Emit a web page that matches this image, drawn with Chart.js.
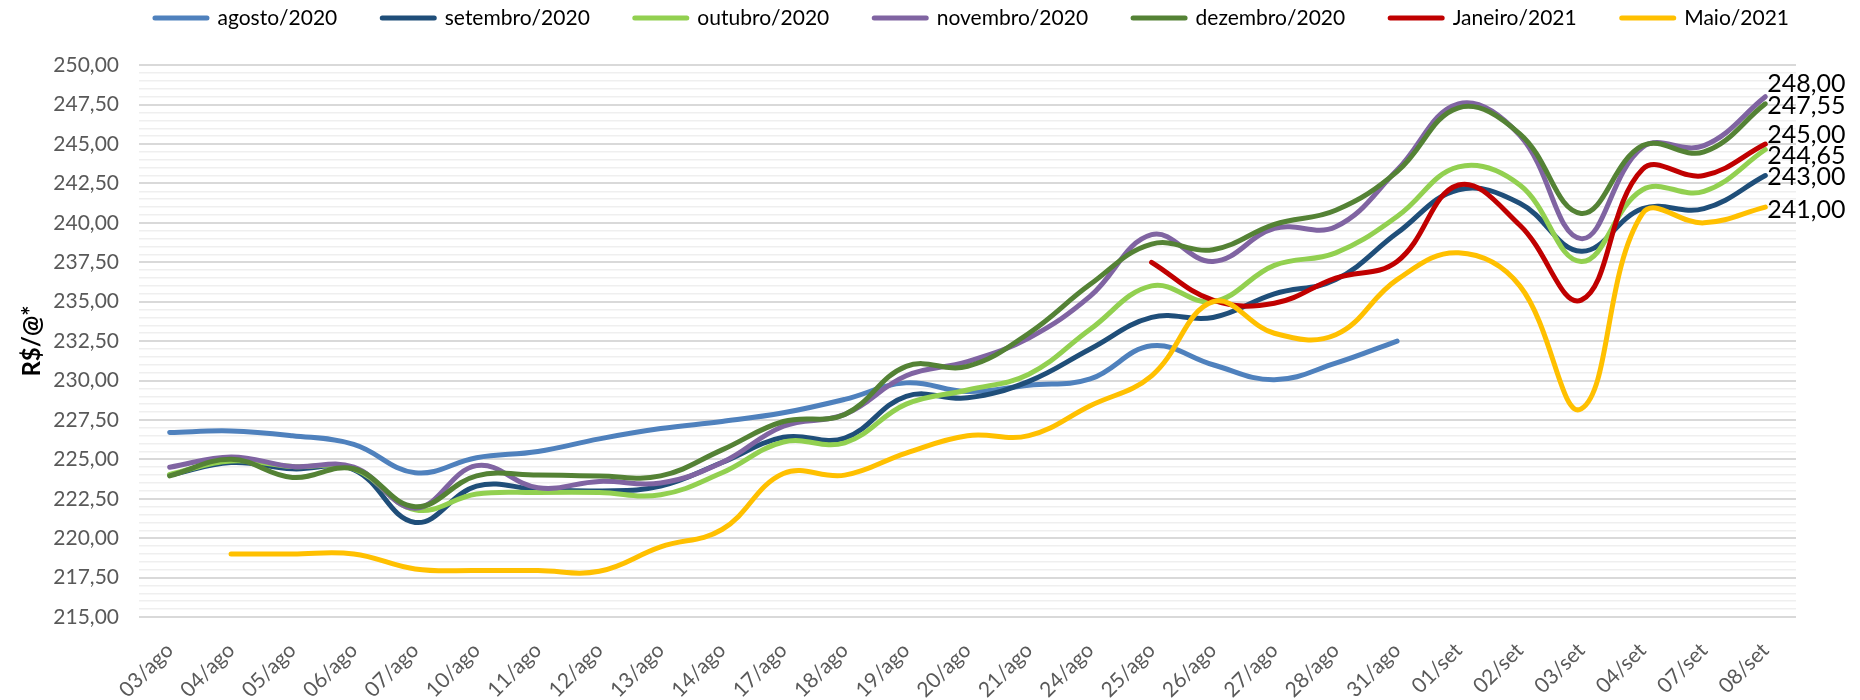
<!DOCTYPE html>
<html>
<head>
<meta charset="utf-8">
<script src="https://cdn.jsdelivr.net/npm/chart.js@4"></script>
<style>
html,body{margin:0;padding:0;background:#ffffff;}
#wrap{width:1860px;height:700px;}
</style>
</head>
<body>
<div id="wrap"><canvas id="c" width="1860" height="700"></canvas></div>
<script>
// ---------- DATA ----------
const categories = ['03/ago','04/ago','05/ago','06/ago','07/ago','10/ago','11/ago','12/ago','13/ago','14/ago',
  '17/ago','18/ago','19/ago','20/ago','21/ago','24/ago','25/ago','26/ago','27/ago','28/ago','31/ago',
  '01/set','02/set','03/set','04/set','07/set','08/set'];

const seriesNames = ['agosto/2020','setembro/2020','outubro/2020','novembro/2020','dezembro/2020','Janeiro/2021','Maio/2021'];

const agosto2020 = [226.70,226.80,226.50,225.95,224.15,225.10,225.50,226.30,226.95,227.40,
  227.95,228.80,229.85,229.30,229.70,230.10,232.20,231.00,230.05,231.10,232.50,
  null,null,null,null,null,null];
const setembro2020 = [224.00,224.80,224.40,224.35,221.00,223.30,223.10,223.00,223.30,224.80,
  226.40,226.35,229.00,228.90,229.95,232.00,234.00,234.00,235.50,236.40,239.35,
  242.10,241.25,238.20,240.90,240.90,243.00];
const outubro2020 = [224.05,224.90,224.55,224.40,221.80,222.80,222.90,222.90,222.75,224.15,
  226.10,226.05,228.50,229.40,230.40,233.25,236.00,235.00,237.30,238.10,240.40,
  243.55,242.40,237.55,242.10,242.00,244.65];
const novembro2020 = [224.50,225.15,224.55,224.50,221.90,224.60,223.20,223.60,223.50,224.80,
  227.10,227.85,230.30,231.20,232.70,235.35,239.25,237.55,239.65,239.75,243.35,
  247.55,245.55,239.00,244.80,244.90,248.00];
const dezembro2020 = [223.95,225.00,223.85,224.40,222.00,223.95,224.00,223.95,223.95,225.60,
  227.40,227.85,230.90,230.90,233.00,236.10,238.65,238.30,239.90,240.80,243.25,
  247.30,245.65,240.60,244.90,244.50,247.55];
const janeiro2021 = [null,null,null,null,null,null,null,null,null,null,
  null,null,null,null,null,null,237.50,235.10,234.90,236.50,237.55,
  242.40,239.85,235.10,243.40,243.00,245.00];
const maio2021 = [null,219.00,219.00,219.00,218.05,217.95,217.95,217.90,219.45,220.55,
  224.10,224.00,225.40,226.50,226.50,228.40,230.30,235.00,233.00,232.90,236.40,
  238.10,236.00,228.20,240.60,240.00,241.00];

const yMin = 215, yMax = 250, yMinorStep = 0.5, yMajorStep = 2.5;

// ---------- STYLE ----------
const seriesColors = ['#4f81bd','#1f4e79','#92d050','#8064a2','#548235','#c00000','#ffc000'];
const endLabelDy = [null, 1, 6, -13, 2, -9, 3];   // vertical nudge of end labels (px), null = no label
const FONT = 'Lato';
const LEGEND_PAD = 45;
const LEGEND_EXTRA = 26.7;
const LEGEND_SHIFT = 74;

const fmt = v => v.toFixed(2).replace('.', ',');
const isMajor = v => Math.abs(v / yMajorStep - Math.round(v / yMajorStep)) < 1e-6;

const allSeries = [agosto2020, setembro2020, outubro2020, novembro2020, dezembro2020, janeiro2021, maio2021];

const datasets = allSeries.map((d, i) => ({
  label: seriesNames[i],
  data: d,
  borderColor: seriesColors[i],
  backgroundColor: seriesColors[i],
  borderWidth: 5,
  borderCapStyle: 'round',
  borderJoinStyle: 'round',
  pointRadius: 0,
  pointHoverRadius: 0,
  tension: 0.4,
  fill: false,
  order: allSeries.length - i
}));

const legendTweak = {
  id: 'legendTweak',
  beforeLayout(chart) {
    const L = chart.legend;
    if (L && !L._patched) {
      const orig = L.fit;
      L.fit = function () { orig.call(this); this.height += LEGEND_EXTRA; };
      L._patched = true;
    }
  },
  afterLayout(chart) {
    const L = chart.legend;
    if (L) { L.left += LEGEND_SHIFT; L.right += LEGEND_SHIFT; }
  }
};

const endLabels = {
  id: 'endLabels',
  afterDatasetsDraw(chart) {
    const ctx = chart.ctx;
    ctx.save();
    ctx.font = '25px ' + FONT;
    ctx.fillStyle = '#000000';
    ctx.textAlign = 'left';
    ctx.textBaseline = 'middle';
    chart.data.datasets.forEach((ds, i) => {
      if (endLabelDy[i] === null) return;
      const meta = chart.getDatasetMeta(i);
      const last = ds.data.length - 1;
      const pt = meta.data[last];
      if (!pt || ds.data[last] == null) return;
      ctx.fillText(fmt(ds.data[last]), pt.x + 2, pt.y + endLabelDy[i]);
    });
    ctx.restore();
  }
};

new Chart(document.getElementById('c'), {
  type: 'line',
  data: { labels: categories, datasets },
  plugins: [legendTweak, endLabels],
  options: {
    responsive: false,
    devicePixelRatio: 1,
    animation: false,
    layout: { padding: { top: 7.5 - LEGEND_PAD, right: 64, bottom: 0, left: 0 } },
    plugins: {
      tooltip: { enabled: false },
      legend: {
        position: 'top',
        labels: {
          usePointStyle: true,
          pointStyle: 'line',
          pointStyleWidth: 52,
          padding: LEGEND_PAD,
          color: '#000000',
          font: { family: FONT, size: 21 },
          sort: (a, b) => a.datasetIndex - b.datasetIndex,
          generateLabels: (chart) => Chart.defaults.plugins.legend.labels.generateLabels(chart)
            .map(l => Object.assign(l, { lineCap: 'round' }))
        }
      }
    },
    scales: {
      x: {
        offset: true,
        grid: { display: false, drawTicks: false },
        border: { display: false },
        ticks: {
          autoSkip: false,
          minRotation: 45,
          maxRotation: 45,
          padding: 21,
          color: '#595959',
          font: { family: FONT, size: 21 }
        },
        afterFit: (s) => { s.height = 83; }
      },
      y: {
        min: yMin,
        max: yMax,
        grid: {
          drawTicks: false,
          color: (c) => isMajor(c.tick.value) ? '#d9d9d9' : '#efefef',
          lineWidth: (c) => isMajor(c.tick.value) ? 2 : 1.5
        },
        border: { display: false },
        ticks: {
          stepSize: yMinorStep,
          autoSkip: false,
          padding: 20,
          color: '#595959',
          font: { family: FONT, size: 21 },
          callback: (v) => isMajor(v) ? fmt(v) : ''
        },
        title: {
          display: true,
          text: 'R$/@*',
          color: '#000000',
          font: { family: FONT, size: 24, weight: 'bold' },
          padding: { top: 18, bottom: 0 }
        },
        afterFit: (s) => { s.width = 139; }
      }
    }
  }
});
</script>
</body>
</html>
